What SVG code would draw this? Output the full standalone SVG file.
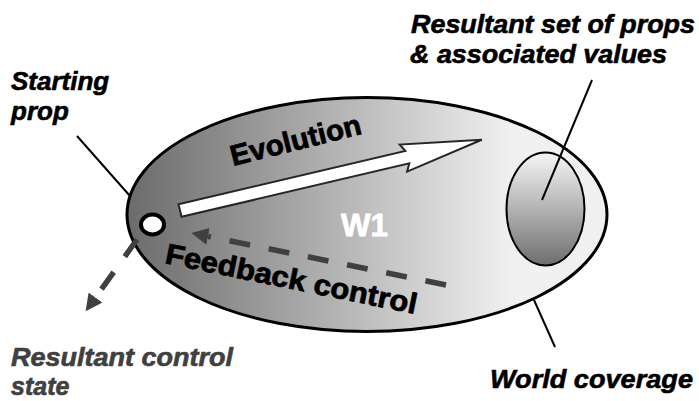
<svg xmlns="http://www.w3.org/2000/svg" width="699" height="401" viewBox="0 0 699 401">
<style>
.lbl{font-family:"Liberation Sans",Arial,sans-serif;font-weight:bold;font-style:italic;font-size:26px;fill:#000;stroke:#000;stroke-width:0.6}
.gry{fill:#404040;stroke:#404040;font-size:25px}
.inl{font-family:"Liberation Sans",Arial,sans-serif;font-weight:bold;font-size:29px;fill:#000;stroke:#000;stroke-width:0.8}
.lead{stroke:#000;stroke-width:2;fill:none}
.dash{stroke:#404040;stroke-width:5.5;fill:none;stroke-dasharray:21 19}
</style>
<defs>
<linearGradient id="gWorld" x1="0" y1="0" x2="1" y2="0">
<stop offset="0" stop-color="#6b6b6b"/>
<stop offset="0.8" stop-color="#f0f0f0"/>
</linearGradient>
<linearGradient id="gSet" x1="0" y1="0" x2="0" y2="1">
<stop offset="0.05" stop-color="#f0f0f0"/>
<stop offset="1" stop-color="#6e6e6e"/>
</linearGradient>
<marker id="head" viewBox="0 -8.5 17 17" refX="0" refY="0" markerWidth="17" markerHeight="17" markerUnits="userSpaceOnUse" orient="auto">
<path d="M0,-8.5 L17,0 L0,8.5 z" fill="#404040"/>
</marker>
</defs>

<g id="world">
<ellipse cx="367" cy="214.5" rx="240" ry="117" fill="url(#gWorld)" stroke="#000" stroke-width="3"/>
<text x="341" y="236" font-family="Liberation Sans, Arial, sans-serif" font-weight="bold" font-size="31" fill="#fff" stroke="#fff" stroke-width="0.8" textLength="47" lengthAdjust="spacingAndGlyphs">W1</text>
</g>

<g id="resultant-set">
<ellipse cx="545.5" cy="209" rx="39" ry="56.5" fill="url(#gSet)" stroke="#000" stroke-width="2"/>
</g>

<g id="starting-prop">
<ellipse cx="152.5" cy="224.5" rx="11.5" ry="10" fill="#fff" stroke="#000" stroke-width="4"/>
</g>

<g id="connectors">
<polygon points="0,-6.5 233,-6.5 229,-14 310,0 230,14 234,6.5 0,6.5" transform="translate(180,210.5) rotate(-13.2)" fill="#fff" stroke="#262626" stroke-width="2" stroke-linejoin="miter"/>
<line class="dash" x1="446" y1="285" x2="208" y2="236.4" marker-end="url(#head)"/>
<line class="dash" x1="137" y1="239.5" x2="95.5" y2="297.5" marker-end="url(#head)"/>
<line class="lead" x1="77" y1="136" x2="130" y2="196"/>
<line class="lead" x1="592" y1="80" x2="542" y2="200"/>
<line class="lead" x1="534" y1="300" x2="555" y2="347"/>
</g>

<g id="labels">
<text class="inl" transform="translate(233,166) rotate(-14)" textLength="134" lengthAdjust="spacingAndGlyphs">Evolution</text>
<text class="inl" transform="translate(164,263) rotate(11.5)" textLength="256" lengthAdjust="spacingAndGlyphs">Feedback control</text>
<text class="lbl" x="11" y="90">Starting</text>
<text class="lbl" x="11" y="120">prop</text>
<text class="lbl" x="411" y="33" textLength="284" lengthAdjust="spacingAndGlyphs">Resultant set of props</text>
<text class="lbl" x="410" y="63" textLength="257" lengthAdjust="spacingAndGlyphs">&amp; associated values</text>
<text class="lbl gry" x="11" y="366" textLength="222" lengthAdjust="spacingAndGlyphs">Resultant control</text>
<text class="lbl gry" x="11" y="395">state</text>
<text class="lbl" x="490" y="388" textLength="203" lengthAdjust="spacingAndGlyphs">World coverage</text>
</g>
</svg>
